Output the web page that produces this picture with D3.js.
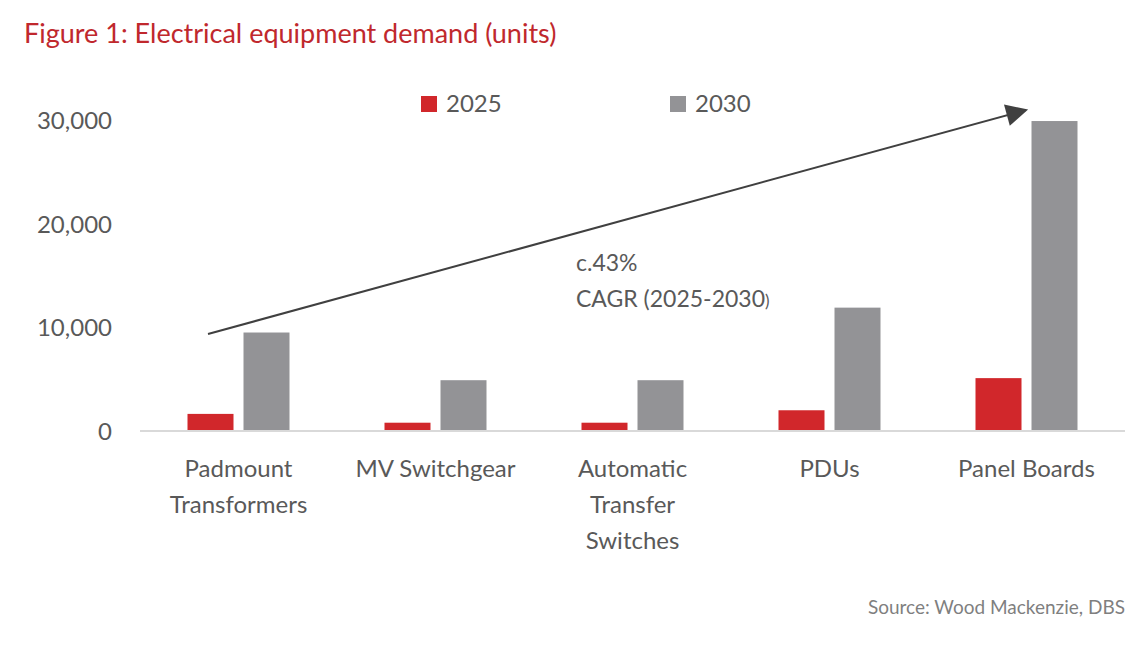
<!DOCTYPE html>
<html><head><meta charset="utf-8">
<script src="https://cdn.jsdelivr.net/npm/d3@7"></script>
<style>body{margin:0;background:#fff}text{font-family:Lato,"Open Sans",sans-serif}</style>
</head><body><svg id="c" width="1143" height="663"></svg>
<script>
const categories = [["Padmount","Transformers"],["MV Switchgear"],["Automatic","Transfer","Switches"],["PDUs"],["Panel Boards"]]
const series = ["2025","2030"]
const v2025 = [1650, 800, 800, 2000, 5100]
const v2030 = [9500, 4900, 4900, 11900, 29900]
const ticks = [0, 10000, 20000, 30000]
const colors = ["#d1272b", "#939396"]

const svg = d3.select("#c")
const x = d3.scaleBand().domain(d3.range(categories.length)).range([140, 1125])
const y = d3.scaleLinear().domain([0, 30000]).range([431, 120])

svg.append("text").attr("x", 24).attr("y", 43).attr("fill", "#c0282d")
  .style("font-size", "27px").text("Figure 1: Electrical equipment demand (units)")

// y ticks
svg.selectAll(".yt").data(ticks).enter().append("text")
  .attr("x", 112).attr("y", d => y(d) + 9).attr("text-anchor", "end")
  .attr("fill", "#595959").style("font-size", "24px").text(d => d3.format(",")(d))

const bw = 46
const data = [v2025, v2030]
data.forEach((vals, s) => {
  svg.selectAll(".b" + s).data(vals).enter().append("rect")
    .attr("x", (d, i) => x(i) + x.bandwidth() / 2 - bw - 5 + s * (bw + 10))
    .attr("y", d => y(d)).attr("width", bw).attr("height", d => y(0) - y(d))
    .attr("fill", colors[s])
})

svg.append("line").attr("x1", 140).attr("x2", 1125).attr("y1", y(0)).attr("y2", y(0))
  .attr("stroke", "#d9d9d9").attr("stroke-width", 2)

categories.forEach((lines, i) => {
  const t = svg.append("text").attr("text-anchor", "middle").attr("fill", "#595959").style("font-size", "24px")
  lines.forEach((l, j) => t.append("tspan").attr("x", x(i) + x.bandwidth() / 2).attr("y", 477 + j * 36).text(l))
})

// legend
series.forEach((s, i) => {
  const lx = [421, 670][i]
  svg.append("rect").attr("x", lx).attr("y", 96).attr("width", 16).attr("height", 16).attr("fill", colors[i])
  svg.append("text").attr("x", lx + 25).attr("y", 112).attr("fill", "#595959").style("font-size", "24px").text(s)
})

// arrow
svg.append("defs").append("marker").attr("id", "ah").attr("viewBox", "0 0 10 10")
  .attr("refX", 9).attr("refY", 5).attr("markerWidth", 10).attr("markerHeight", 10)
  .attr("markerUnits", "userSpaceOnUse").attr("orient", "auto")
  .append("path").attr("d", "M0,0 L10,5 L0,10 z").attr("fill", "#404040")
svg.select("marker").attr("markerWidth", 26).attr("markerHeight", 22)
svg.append("line").attr("x1", 208).attr("y1", 334).attr("x2", 1026).attr("y2", 110)
  .attr("stroke", "#404040").attr("stroke-width", 2).attr("marker-end", "url(#ah)")

svg.append("text").attr("x", 576).attr("y", 271).attr("fill", "#595959").style("font-size", "23px").text("c.43%")
const cg = svg.append("text").attr("x", 576).attr("y", 307).attr("fill", "#595959").style("font-size", "23px")
cg.append("tspan").text("CAGR (2025-2030")
cg.append("tspan").style("font-size", "17px").text(")")

svg.append("text").attr("x", 1125).attr("y", 614).attr("text-anchor", "end").attr("fill", "#7f7f7f")
  .style("font-size", "19px").text("Source:  Wood Mackenzie, DBS")
</script></body></html>
